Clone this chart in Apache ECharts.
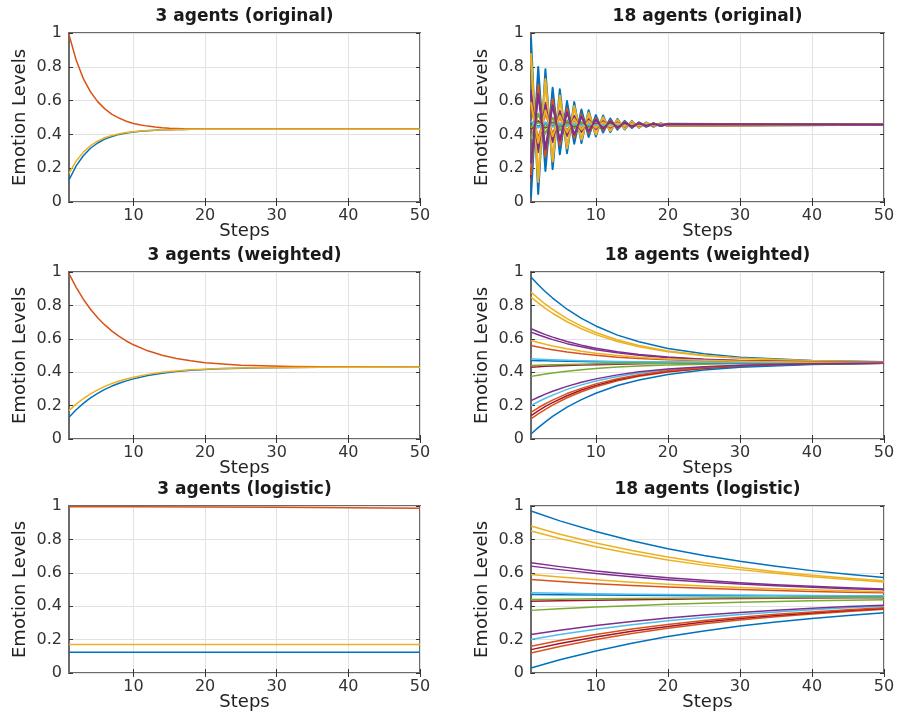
<!DOCTYPE html>
<html>
<head>
<meta charset="utf-8">
<script src="https://cdn.jsdelivr.net/npm/echarts@6/dist/echarts.min.js"></script>
<style>html,body{margin:0;padding:0;background:#fff}#c{width:899px;height:722px}</style>
</head>
<body>
<div id="c"></div>
<script>
// ---- data ----
const titles = ['3 agents (original)', '18 agents (original)', '3 agents (weighted)', '18 agents (weighted)', '3 agents (logistic)', '18 agents (logistic)'];
const xTicks = [10, 20, 30, 40, 50];
const matlabColors = ['#0072BD', '#D95319', '#EDB120', '#7E2F8E', '#77AC30', '#4DBEEE', '#A2142F'];

// 3 agents (original)
const stepsO3 = [1,2,3,4,5,6,7,8,9,10,11,12,13,14,15,16,17,18,20,25,30,40,50];
const o3Blue   = [0.13,0.214,0.274,0.318,0.349,0.372,0.388,0.40,0.408,0.414,0.419,0.422,0.425,0.427,0.428,0.429,0.429,0.43,0.43,0.43,0.43,0.43,0.43];
const o3Orange = [0.99,0.84,0.73,0.652,0.594,0.551,0.519,0.496,0.478,0.465,0.456,0.449,0.444,0.44,0.437,0.435,0.433,0.432,0.431,0.43,0.43,0.43,0.43];
const o3Yellow = [0.17,0.243,0.295,0.333,0.36,0.38,0.394,0.404,0.411,0.416,0.42,0.423,0.425,0.427,0.428,0.429,0.429,0.43,0.43,0.43,0.43,0.43,0.43];

// 3 agents (weighted)
const stepsW3 = [1,2,3,4,5,6,7,8,9,10,12,14,16,18,20,22,25,28,32,36,40,50];
const w3Blue   = [0.13,0.175,0.213,0.246,0.273,0.297,0.317,0.334,0.348,0.36,0.38,0.394,0.404,0.411,0.416,0.42,0.424,0.426,0.428,0.429,0.43,0.43];
const w3Orange = [0.99,0.908,0.837,0.777,0.726,0.683,0.646,0.614,0.587,0.564,0.528,0.501,0.482,0.468,0.457,0.45,0.442,0.438,0.434,0.432,0.431,0.43];
const w3Yellow = [0.17,0.209,0.242,0.27,0.294,0.315,0.332,0.347,0.359,0.37,0.387,0.399,0.407,0.414,0.418,0.4215,0.425,0.427,0.428,0.429,0.43,0.43];

// 3 agents (logistic)
const stepsL3 = [1,10,20,30,40,50];
const l3Blue   = [0.125,0.125,0.125,0.125,0.125,0.125];
const l3Orange = [0.995,0.995,0.994,0.993,0.99,0.987];
const l3Yellow = [0.17,0.17,0.17,0.17,0.17,0.17];

// 18 agents (original)
const stepsO18 = [1,2,3,4,5,6,7,8,9,10,11,12,13,14,15,16,17,18,19,20,50];
const o18 = [
 [0.97,0.047,0.785,0.194,0.667,0.289,0.591,0.349,0.543,0.388,0.512,0.413,0.492,0.429,0.48,0.439,0.471,0.445,0.466,0.45,0.457],
 [0.56,0.375,0.523,0.404,0.499,0.423,0.484,0.435,0.474,0.443,0.468,0.448,0.464,0.451,0.462,0.453,0.46,0.455,0.459,0.456,0.457],
 [0.88,0.119,0.728,0.24,0.63,0.318,0.568,0.368,0.528,0.4,0.502,0.421,0.486,0.434,0.476,0.442,0.469,0.447,0.465,0.451,0.457],
 [0.66,0.295,0.587,0.353,0.54,0.39,0.51,0.414,0.491,0.43,0.479,0.44,0.471,0.446,0.466,0.45,0.463,0.452,0.461,0.454,0.457],
 [0.375,0.523,0.405,0.499,0.423,0.484,0.436,0.474,0.443,0.468,0.448,0.464,0.451,0.462,0.453,0.46,0.455,0.459,0.456,0.458,0.457],
 [0.2,0.663,0.293,0.589,0.352,0.541,0.39,0.511,0.414,0.491,0.429,0.479,0.439,0.471,0.446,0.466,0.45,0.463,0.452,0.461,0.457],
 [0.43,0.479,0.44,0.471,0.446,0.466,0.45,0.463,0.452,0.461,0.454,0.459,0.455,0.458,0.456,0.458,0.456,0.458,0.457,0.457,0.457],
 [0.47,0.447,0.465,0.45,0.462,0.453,0.46,0.454,0.459,0.455,0.458,0.456,0.458,0.456,0.457,0.457,0.457,0.457,0.457,0.457,0.457],
 [0.12,0.727,0.241,0.63,0.319,0.567,0.369,0.528,0.4,0.502,0.421,0.486,0.434,0.476,0.442,0.469,0.448,0.465,0.451,0.462,0.457],
 [0.85,0.143,0.709,0.256,0.618,0.328,0.56,0.375,0.523,0.404,0.499,0.423,0.484,0.435,0.474,0.443,0.468,0.448,0.464,0.451,0.457],
 [0.64,0.311,0.574,0.363,0.532,0.397,0.505,0.419,0.488,0.432,0.477,0.441,0.47,0.447,0.465,0.451,0.462,0.453,0.46,0.454,0.457],
 [0.44,0.471,0.446,0.466,0.45,0.463,0.453,0.461,0.454,0.459,0.455,0.458,0.456,0.458,0.456,0.457,0.457,0.457,0.457,0.457,0.457],
 [0.48,0.439,0.472,0.445,0.466,0.449,0.463,0.452,0.461,0.454,0.459,0.455,0.459,0.456,0.458,0.456,0.458,0.456,0.457,0.457,0.457],
 [0.14,0.711,0.254,0.619,0.327,0.561,0.374,0.523,0.404,0.5,0.423,0.484,0.435,0.474,0.443,0.468,0.448,0.464,0.451,0.462,0.457],
 [0.03,0.799,0.184,0.676,0.282,0.597,0.345,0.547,0.385,0.514,0.411,0.494,0.428,0.48,0.438,0.472,0.445,0.467,0.449,0.463,0.457],
 [0.16,0.695,0.267,0.609,0.335,0.554,0.379,0.519,0.407,0.497,0.425,0.483,0.437,0.473,0.444,0.467,0.449,0.464,0.452,0.461,0.457],
 [0.59,0.351,0.542,0.389,0.511,0.413,0.492,0.429,0.479,0.439,0.471,0.446,0.466,0.45,0.463,0.452,0.461,0.454,0.459,0.455,0.457],
 [0.23,0.639,0.312,0.573,0.364,0.531,0.398,0.505,0.419,0.487,0.433,0.477,0.441,0.469,0.447,0.465,0.451,0.462,0.453,0.46,0.457]
];

// 18 agents (weighted)
const stepsW18 = [1,2,3,4,6,8,10,13,16,20,25,30,40,50];
const w18 = [
 [0.97,0.924,0.882,0.844,0.777,0.722,0.677,0.622,0.582,0.542,0.51,0.49,0.47,0.462],
 [0.56,0.551,0.542,0.535,0.521,0.51,0.501,0.49,0.482,0.474,0.468,0.464,0.46,0.458],
 [0.88,0.842,0.807,0.776,0.721,0.676,0.638,0.593,0.56,0.527,0.501,0.484,0.468,0.461],
 [0.66,0.642,0.625,0.61,0.584,0.562,0.544,0.522,0.506,0.491,0.478,0.47,0.462,0.459],
 [0.375,0.382,0.389,0.395,0.406,0.415,0.422,0.431,0.437,0.443,0.448,0.452,0.455,0.456],
 [0.2,0.223,0.244,0.263,0.297,0.324,0.347,0.374,0.395,0.414,0.43,0.44,0.451,0.454],
 [0.43,0.432,0.435,0.437,0.44,0.443,0.445,0.448,0.45,0.453,0.454,0.455,0.456,0.457],
 [0.47,0.469,0.468,0.467,0.465,0.464,0.463,0.461,0.46,0.459,0.458,0.458,0.457,0.457],
 [0.12,0.15,0.178,0.203,0.247,0.283,0.313,0.348,0.375,0.401,0.422,0.435,0.449,0.454],
 [0.85,0.815,0.782,0.753,0.702,0.66,0.625,0.584,0.552,0.522,0.498,0.483,0.467,0.461],
 [0.64,0.624,0.609,0.595,0.571,0.552,0.535,0.516,0.501,0.487,0.476,0.469,0.462,0.459],
 [0.44,0.442,0.443,0.444,0.446,0.448,0.45,0.452,0.453,0.454,0.455,0.456,0.457,0.457],
 [0.48,0.478,0.476,0.474,0.471,0.469,0.467,0.464,0.463,0.461,0.459,0.458,0.458,0.457],
 [0.14,0.169,0.195,0.218,0.259,0.293,0.321,0.355,0.38,0.404,0.424,0.436,0.449,0.454],
 [0.03,0.068,0.103,0.135,0.191,0.236,0.274,0.32,0.353,0.386,0.413,0.429,0.446,0.453],
 [0.16,0.187,0.211,0.233,0.272,0.303,0.33,0.361,0.385,0.408,0.426,0.438,0.45,0.454],
 [0.59,0.578,0.567,0.557,0.54,0.526,0.514,0.5,0.489,0.479,0.471,0.466,0.46,0.458],
 [0.23,0.25,0.269,0.286,0.315,0.34,0.36,0.384,0.402,0.419,0.433,0.442,0.451,0.455]
];

// 18 agents (logistic)
const stepsL18 = [1,5,10,15,20,25,30,35,40,45,50];
const l18 = [
 [0.97,0.911,0.847,0.792,0.744,0.704,0.669,0.639,0.613,0.591,0.572],
 [0.56,0.548,0.535,0.524,0.515,0.507,0.5,0.494,0.488,0.484,0.48],
 [0.88,0.831,0.778,0.733,0.694,0.66,0.632,0.607,0.586,0.568,0.552],
 [0.66,0.637,0.611,0.59,0.571,0.555,0.541,0.529,0.519,0.51,0.503],
 [0.375,0.384,0.395,0.403,0.411,0.418,0.423,0.428,0.432,0.436,0.439],
 [0.2,0.23,0.262,0.289,0.313,0.333,0.351,0.366,0.379,0.39,0.399],
 [0.43,0.433,0.436,0.439,0.442,0.444,0.446,0.447,0.449,0.45,0.451],
 [0.47,0.469,0.467,0.465,0.464,0.463,0.462,0.462,0.461,0.46,0.46],
 [0.12,0.159,0.201,0.237,0.268,0.295,0.318,0.337,0.354,0.369,0.381],
 [0.85,0.805,0.756,0.714,0.677,0.646,0.619,0.597,0.577,0.56,0.545],
 [0.64,0.619,0.596,0.577,0.559,0.545,0.533,0.522,0.513,0.505,0.498],
 [0.44,0.442,0.444,0.446,0.447,0.449,0.45,0.451,0.452,0.453,0.453],
 [0.48,0.477,0.474,0.472,0.47,0.468,0.467,0.465,0.464,0.463,0.462],
 [0.14,0.176,0.216,0.25,0.279,0.305,0.326,0.344,0.36,0.374,0.386],
 [0.03,0.079,0.132,0.178,0.218,0.252,0.281,0.305,0.327,0.345,0.361],
 [0.16,0.194,0.231,0.263,0.291,0.314,0.334,0.352,0.366,0.379,0.39],
 [0.59,0.575,0.558,0.544,0.531,0.521,0.512,0.504,0.498,0.492,0.487],
 [0.23,0.256,0.284,0.309,0.33,0.348,0.363,0.376,0.388,0.398,0.406]
];

// ---- layout ----
const gridRects = [
 {left: 69, top: 33, width: 351, height: 169},
 {left: 531, top: 33, width: 353, height: 169},
 {left: 69, top: 272, width: 351, height: 167},
 {left: 531, top: 272, width: 353, height: 167},
 {left: 69, top: 506, width: 351, height: 167},
 {left: 531, top: 506, width: 353, height: 167}
];

const FONT = '"DejaVu Sans", sans-serif';
const grids = [], xAxes = [], yAxes = [], series = [], graphics = [];

gridRects.forEach((r, i) => {
  grids.push(Object.assign({show: true, borderColor: '#6a6a6a', borderWidth: 2, backgroundColor: '#fff', containLabel: false, outerBoundsMode: 'none'}, r));
  xAxes.push({
    gridIndex: i, type: 'value', min: 1, max: 50, position: 'bottom',
    axisLine: {show: false},
    axisTick: {show: true, inside: true, length: 4, customValues: xTicks, lineStyle: {color: '#333', width: 1}},
    axisLabel: {customValues: xTicks, fontSize: 16, color: '#333', margin: 6, fontFamily: FONT},
    splitLine: {show: true, lineStyle: {color: '#e2e2e2', width: 1}},
    name: 'Steps', nameLocation: 'middle', nameGap: 20, nameMoveOverlap: false,
    nameTextStyle: {fontSize: 18, color: '#222', fontFamily: FONT}
  });
  yAxes.push({
    gridIndex: i, type: 'value', min: 0, max: 1, interval: 0.2, position: 'left',
    axisLine: {show: false},
    axisTick: {show: true, inside: true, length: 4, lineStyle: {color: '#333', width: 1}},
    axisLabel: {fontSize: 16, color: '#333', margin: 7, fontFamily: FONT},
    splitLine: {show: true, lineStyle: {color: '#e2e2e2', width: 1}},
    name: 'Emotion Levels', nameLocation: 'middle', nameGap: 40, nameMoveOverlap: false,
    nameTextStyle: {fontSize: 18, color: '#222', fontFamily: FONT}
  });
  graphics.push({
    type: 'text', x: r.left + r.width / 2, y: r.top - 16, z: 10,
    style: {text: titles[i], fill: '#1a1a1a', font: 'bold 17px ' + FONT, align: 'center', verticalAlign: 'middle'}
  });
});
// mirrored ticks on top / right (MATLAB box)
gridRects.forEach((r, i) => {
  xAxes.push({gridIndex: i, type: 'value', min: 1, max: 50, position: 'top',
    axisLine: {show: false}, axisLabel: {show: false}, splitLine: {show: false},
    axisTick: {show: true, inside: true, length: 4, customValues: xTicks, lineStyle: {color: '#333'}}});
  yAxes.push({gridIndex: i, type: 'value', min: 0, max: 1, interval: 0.2, position: 'right',
    axisLine: {show: false}, axisLabel: {show: false}, splitLine: {show: false},
    axisTick: {show: true, inside: true, length: 4, lineStyle: {color: '#333'}}});
});

function pairs(steps, vals) { return vals.map((v, k) => [steps[k], v]); }
function addLine(panel, steps, vals, color, width) {
  series.push({
    type: 'line', xAxisIndex: panel, yAxisIndex: panel, data: pairs(steps, vals),
    showSymbol: false, symbol: 'none', smooth: false,
    lineStyle: {color: color, width: width || 1.5, join: 'round'}, itemStyle: {color: color},
    silent: true, animation: false, z: 3
  });
}

addLine(0, stepsO3, o3Blue, matlabColors[0]);
addLine(0, stepsO3, o3Orange, matlabColors[1]);
addLine(0, stepsO3, o3Yellow, matlabColors[2]);
o18.forEach((v, k) => addLine(1, stepsO18, v, matlabColors[k % 7], 2));
addLine(2, stepsW3, w3Blue, matlabColors[0]);
addLine(2, stepsW3, w3Orange, matlabColors[1]);
addLine(2, stepsW3, w3Yellow, matlabColors[2]);
w18.forEach((v, k) => addLine(3, stepsW18, v, matlabColors[k % 7]));
addLine(4, stepsL3, l3Blue, matlabColors[0]);
addLine(4, stepsL3, l3Orange, matlabColors[1]);
addLine(4, stepsL3, l3Yellow, matlabColors[2]);
l18.forEach((v, k) => addLine(5, stepsL18, v, matlabColors[k % 7]));

const chart = echarts.init(document.getElementById('c'), null, {renderer: 'canvas'});
chart.setOption({
  backgroundColor: '#fff',
  animation: false,
  textStyle: {fontFamily: FONT},
  grid: grids, xAxis: xAxes, yAxis: yAxes, series: series, graphic: graphics
});
</script>
</body>
</html>
